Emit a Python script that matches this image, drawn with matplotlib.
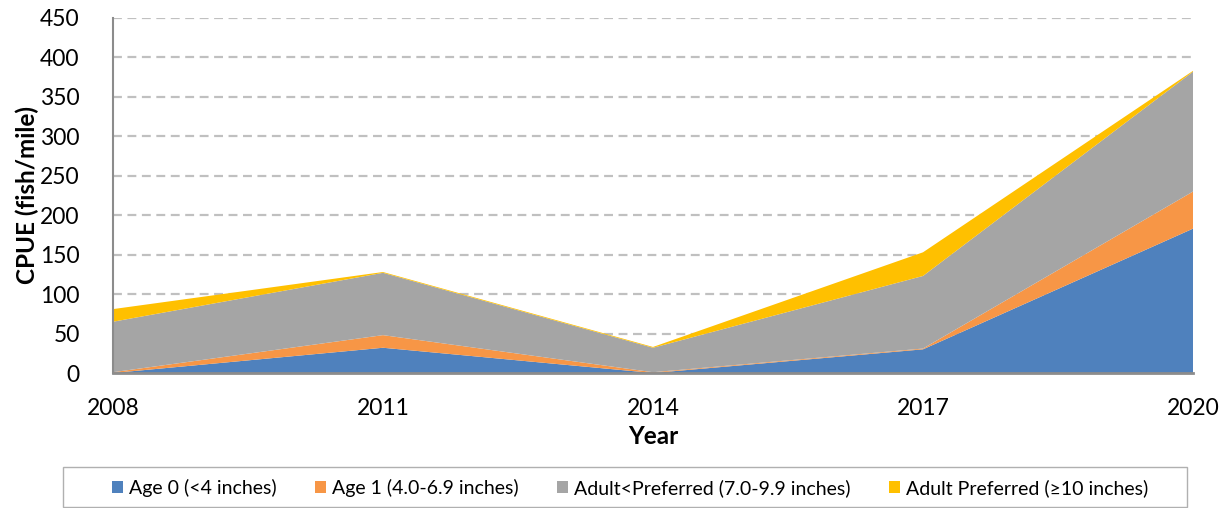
import numpy as np
import matplotlib.pyplot as plt
from matplotlib.patches import Rectangle

plt.rcParams['font.family'] = ['Lato', 'DejaVu Sans']

years = ['2008', '2011', '2014', '2017', '2020']
age0 = [0, 32, 0, 30, 183]
age1 = [1, 16, 1, 1, 47]
adult_lt_pref = [64, 79, 31, 92, 152]
adult_pref = [16, 1, 1, 30, 1]

labels = ['Age 0 (<4 inches)', 'Age 1 (4.0-6.9 inches)',
          'Adult<Preferred (7.0-9.9 inches)', 'Adult Preferred (\u226510 inches)']
colors = ['#4F81BD', '#F79646', '#A5A5A5', '#FFC000']

W, H = 1228, 508
fig = plt.figure(figsize=(W / 100, H / 100), dpi=100)
ax = fig.add_axes([113 / W, 1 - 373 / H, 1080 / W, 355 / H])

x = np.arange(len(years))
ax.stackplot(x, age0, age1, adult_lt_pref, adult_pref, colors=colors,
             labels=labels, edgecolor='none', zorder=2)

ax.set_xlim(0, len(years) - 1)
ax.set_ylim(0, 450)
ax.set_yticks(range(0, 451, 50))
ax.set_xticks(x)
ax.set_xticklabels(years)
ax.tick_params(axis='both', labelsize=16.5, length=0)
ax.tick_params(axis='y', pad=24)
ax.tick_params(axis='x', pad=18)

ax.grid(axis='y', linestyle=(0, (4, 2.5)), color='#c0c0c0', linewidth=1.6, zorder=1)
ax.set_axisbelow(True)
for s in ['top', 'right']:
    ax.spines[s].set_visible(False)
ax.spines['left'].set_color('#8c8c8c')
ax.spines['left'].set_linewidth(1.5)
ax.spines['bottom'].set_color('#8c8c8c')
ax.spines['bottom'].set_linewidth(2)
ax.spines['bottom'].set_zorder(3)

ax.set_ylabel('CPUE (fish/mile)', fontsize=17.5, fontweight='bold', labelpad=1)
ax.set_xlabel('Year', fontsize=17.5, fontweight='bold', labelpad=4)

# legend box
fig.patches.append(Rectangle((63 / W, 1 - 507 / H), 1124 / W, 40 / H,
                             transform=fig.transFigure, facecolor='white',
                             edgecolor='#b0b0b0', linewidth=1))
fig.legend(loc='center', bbox_to_anchor=(630 / W, 1 - 488 / H), ncol=4,
           fontsize=14, frameon=False, handlelength=0.55, handleheight=0.55,
           handletextpad=0.3, columnspacing=2.0, borderaxespad=0)

fig.savefig('out.png', dpi=100)
